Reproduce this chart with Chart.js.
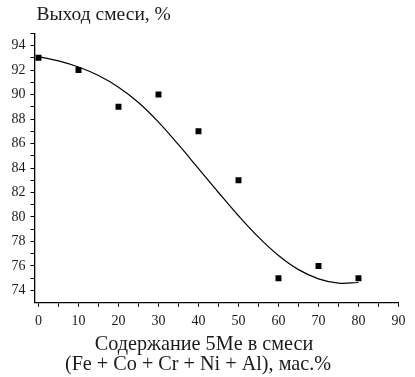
<!DOCTYPE html>
<html>
<head>
<meta charset="utf-8">
<script src="https://cdn.jsdelivr.net/npm/chart.js@4/dist/chart.umd.min.js"></script>
<style>
html,body{margin:0;padding:0;background:#fff;}
#wrap{width:415px;height:377px;position:relative;}
</style>
</head>
<body>
<div id="wrap"><canvas id="c" width="415" height="377"></canvas></div>
<script>
// Measured points
const contentX = [0, 10, 20, 30, 40, 50, 60, 70, 80];
const yieldY   = [93, 92, 89, 90, 87, 83, 75, 76, 75];

// Fitted curve
const fitX = [0, 5, 10, 15, 20, 25, 30, 35, 40, 45, 50, 55, 60, 65, 70, 75, 80];
const fitY = [93.1, 92.75, 92.25, 91.55, 90.6, 89.35, 87.75, 85.9, 83.95, 82.0, 80.1, 78.35, 76.85, 75.7, 74.95, 74.6, 74.65];

// Tick values
const xTicks = [0, 5, 10, 15, 20, 25, 30, 35, 40, 45, 50, 55, 60, 65, 70, 75, 80, 85, 90];
const xLabels = [0, 10, 20, 30, 40, 50, 60, 70, 80, 90];
const yTicks = [74, 75, 76, 77, 78, 79, 80, 81, 82, 83, 84, 85, 86, 87, 88, 89, 90, 91, 92, 93, 94, 95];
const yLabels = [74, 76, 78, 80, 82, 84, 86, 88, 90, 92, 94];

const titleText = 'Выход смеси, %';
const xTitleLines = ['Содержание 5Me в смеси', '(Fe + Co + Cr + Ni + Al), мас.%'];

const serif = '"Liberation Serif", "Times New Roman", serif';
const ink = '#1a1a1a';

const textPlugin = {
  id: 'texts',
  afterDraw(chart) {
    const ctx = chart.ctx;
    ctx.save();
    ctx.fillStyle = ink;
    ctx.textBaseline = 'middle';
    ctx.font = '19.5px ' + serif;
    ctx.textAlign = 'left';
    ctx.fillText(titleText, 36.5, 14.5);
    ctx.font = '20.2px ' + serif;
    ctx.textAlign = 'center';
    ctx.fillText(xTitleLines[0], 204, 345);
    ctx.fillText(xTitleLines[1], 198, 365);
    ctx.restore();
  }
};

new Chart(document.getElementById('c'), {
  type: 'scatter',
  data: {
    datasets: [
      {
        type: 'line',
        data: fitX.map((x, i) => ({x: x, y: fitY[i]})),
        borderColor: '#000',
        borderWidth: 1.2,
        pointRadius: 0,
        tension: 0.4,
        fill: false
      },
      {
        data: contentX.map((x, i) => ({x: x, y: yieldY[i]})),
        backgroundColor: '#000',
        borderColor: '#000',
        borderWidth: 0,
        pointStyle: 'rect',
        pointRadius: 4.2,
        pointHoverRadius: 4.2
      }
    ]
  },
  options: {
    responsive: false,
    animation: false,
    events: [],
    layout: {padding: {left: 0, right: 16.5, top: 33.3, bottom: 0}},
    plugins: {legend: {display: false}, tooltip: {enabled: false}, title: {display: false}},
    scales: {
      x: {
        type: 'linear',
        min: -1,
        max: 90,
        afterBuildTicks(scale) { scale.ticks = xTicks.map(v => ({value: v})); },
        afterFit(scale) { scale.height = 377 - 302.7; },
        grid: {display: true, drawOnChartArea: false, drawTicks: true, tickLength: 4, tickColor: '#000', tickWidth: 1},
        border: {display: true, color: '#000', width: 1.3},
        ticks: {
          autoSkip: false,
          maxRotation: 0,
          padding: 6,
          color: ink,
          font: {family: serif, size: 14},
          callback: v => xLabels.includes(v) ? String(v) : ''
        }
      },
      y: {
        type: 'linear',
        min: 73,
        max: 95,
        afterBuildTicks(scale) { scale.ticks = yTicks.map(v => ({value: v})); },
        afterFit(scale) { scale.width = 34.5; },
        grid: {display: true, drawOnChartArea: false, drawTicks: true, tickLength: 4, tickColor: '#000', tickWidth: 1},
        border: {display: true, color: '#000', width: 1.3},
        ticks: {
          autoSkip: false,
          padding: 5,
          color: ink,
          font: {family: serif, size: 14},
          callback: v => yLabels.includes(v) ? String(v) : ''
        }
      }
    }
  },
  plugins: [textPlugin]
});
</script>
</body>
</html>
